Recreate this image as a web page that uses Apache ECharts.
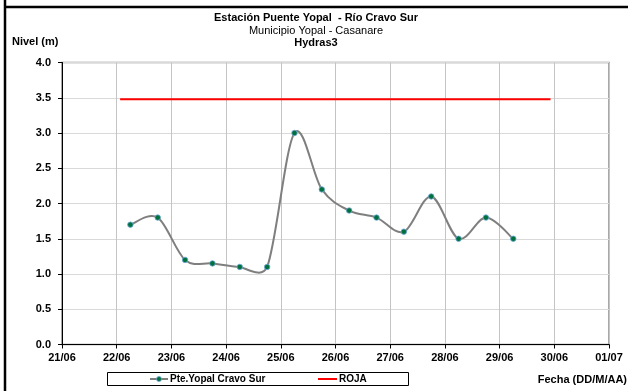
<!DOCTYPE html>
<html><head><meta charset="utf-8">
<script src="https://cdn.jsdelivr.net/npm/echarts@6/dist/echarts.min.js"></script>
<style>html,body{margin:0;padding:0;background:#fff}#c{width:632px;height:391px}</style>
</head><body><div id="c"></div>
<script>
// ---- data ----
const tickLabels = ['21/06','22/06','23/06','24/06','25/06','26/06','27/06','28/06','29/06','30/06','01/07'];
const obsTimes = ['22/06 06:00','22/06 18:00','23/06 06:00','23/06 18:00','24/06 06:00','24/06 18:00',
                  '25/06 06:00','25/06 18:00','26/06 06:00','26/06 18:00','27/06 06:00','27/06 18:00',
                  '28/06 06:00','28/06 18:00','29/06 06:00'];
const obsLevels = [1.7,1.8,1.2,1.15,1.1,1.1,3.0,2.2,1.9,1.8,1.6,2.1,1.5,1.8,1.5];
const rojaTimes = ['22/06 01:30','29/06 22:20'];
const rojaLevels = [3.48,3.48];
const seriesNames = ['Pte.Yopal Cravo Sur','ROJA'];

// day offset from 21/06 00:00
function toDay(s){
  const [d,t] = s.split(' ');
  const [dd,mm] = d.split('/').map(Number);
  const [h,mi] = (t||'00:00').split(':').map(Number);
  const base = mm === 6 ? dd - 21 : 9 + dd;
  return base + (h + mi/60)/24;
}
const obsData = obsTimes.map((t,i)=>[toDay(t),obsLevels[i]]);
const rojaData = rojaTimes.map((t,i)=>[toDay(t),rojaLevels[i]]);

const FONT = '"Liberation Sans", Arial, sans-serif';
const LINE_GRAY = '#7f7f7f', DOT_GREEN = '#00703c', DOT_EDGE = '#6fa8dc', RED = '#ff0000';

function dist(a,b){ return Math.hypot(a[0]-b[0], a[1]-b[1]); }
// Excel-style smoothed curve (bezier with clamped arms), coordinates from the chart's own scales
function renderSmooth(params, api){
  const p = obsData.map(d=>api.coord(d));
  const n = p.length;
  let d = 'M' + p[0][0] + ' ' + p[0][1];
  for (let i=0;i<n-1;i++){
    const p0 = p[Math.max(i-1,0)], p1 = p[i], p2 = p[i+1], p3 = p[Math.min(i+2,n-1)];
    const d02 = dist(p0,p2), d12 = dist(p1,p2), d13 = dist(p1,p3);
    let f1 = 1/6, f2 = 1/6;
    const a = d02/6 >= d12/2, b = d13/6 >= d12/2;
    if (a && b){ f1 = d12/2/d02; f2 = d12/2/d13; }
    else if (a){ f1 = f2 = d12/2/d02; }
    else if (b){ f1 = f2 = d12/2/d13; }
    const c1x = p1[0] + (p2[0]-p0[0])*f1, c1y = p1[1] + (p2[1]-p0[1])*f1;
    const c2x = p2[0] - (p3[0]-p1[0])*f2, c2y = p2[1] - (p3[1]-p1[1])*f2;
    d += ' C' + c1x + ' ' + c1y + ' ' + c2x + ' ' + c2y + ' ' + p2[0] + ' ' + p2[1];
  }
  return {type:'path', shape:{pathData:d}, style:{stroke:LINE_GRAY, lineWidth:2, fill:'none'}};
}

const chart = echarts.init(document.getElementById('c'), null, {renderer:'canvas'});
chart.setOption({
  backgroundColor:'#fff',
  animation:false,
  grid:{left:62,right:23,top:62.5,bottom:46.5,show:true,borderColor:'#8c8c8c',borderWidth:1.5,backgroundColor:'transparent'},
  xAxis:{
    type:'value',min:0,max:tickLabels.length-1,interval:1,
    axisLine:{show:true,lineStyle:{color:'#000',width:1}},
    axisTick:{show:true,inside:false,length:4,lineStyle:{color:'#000'}},
    axisLabel:{margin:8,color:'#000',fontFamily:FONT,fontWeight:'bold',fontSize:11,
      formatter:v=>tickLabels[Math.round(v)]},
    splitLine:{show:true,lineStyle:{color:'#c4c4c4',width:1}}
  },
  yAxis:{
    type:'value',min:0,max:4,interval:0.5,
    axisLine:{show:true,lineStyle:{color:'#000',width:1}},
    axisTick:{show:true,inside:false,length:4,lineStyle:{color:'#000'}},
    axisLabel:{margin:11,color:'#000',fontFamily:FONT,fontWeight:'bold',fontSize:11,
      formatter:v=>v.toFixed(1)},
    splitLine:{show:true,lineStyle:{color:'#d9d9d9',width:1.2}}
  },
  series:[
    {
      name:seriesNames[1],type:'line',data:rojaData,symbol:'none',
      lineStyle:{color:RED,width:2},z:2
    },
    {
      name:seriesNames[0],type:'custom',renderItem:renderSmooth,data:[[0,0]],z:3
    },
    {
      name:seriesNames[0],type:'scatter',data:obsData,symbol:'circle',symbolSize:5.5,
      itemStyle:{color:DOT_GREEN,borderColor:DOT_EDGE,borderWidth:0.8,opacity:1},z:4
    }
  ],
  graphic:[
    {type:'line',shape:{x1:5,y1:0,x2:5,y2:391},style:{stroke:'#000',lineWidth:2.5}},
    {type:'line',shape:{x1:4,y1:7,x2:628,y2:7},style:{stroke:'#000',lineWidth:2.5}},
    // legend box
    {type:'rect',shape:{x:107.5,y:372.5,width:301,height:13},style:{fill:'none',stroke:'#000',lineWidth:1}},
    {type:'line',shape:{x1:150,y1:379,x2:168,y2:379},style:{stroke:LINE_GRAY,lineWidth:2}},
    {type:'circle',shape:{cx:159,cy:379,r:2.5},style:{fill:DOT_GREEN,stroke:DOT_EDGE,lineWidth:0.8}},
    {type:'text',style:{text:seriesNames[0],x:170,y:379.5,align:'left',verticalAlign:'middle',
      font:'bold 10px '+FONT,fill:'#000'}},
    {type:'line',shape:{x1:318,y1:379,x2:337,y2:379},style:{stroke:RED,lineWidth:2}},
    {type:'text',style:{text:seriesNames[1],x:339,y:379.5,align:'left',verticalAlign:'middle',
      font:'bold 10px '+FONT,fill:'#000'}},
    // titles
    {type:'text',style:{text:'Estación Puente Yopal  - Río Cravo Sur',x:316,y:18,align:'center',verticalAlign:'middle',
      font:'bold 11px '+FONT,fill:'#000'}},
    {type:'text',style:{text:'Municipio Yopal - Casanare',x:316,y:31,align:'center',verticalAlign:'middle',
      font:'11px '+FONT,fill:'#000'}},
    {type:'text',style:{text:'Hydras3',x:316,y:43,align:'center',verticalAlign:'middle',
      font:'bold 11px '+FONT,fill:'#000'}},
    {type:'text',style:{text:'Nivel (m)',x:12,y:42,align:'left',verticalAlign:'middle',
      font:'bold 11px '+FONT,fill:'#000'}},
    {type:'text',style:{text:'Fecha (DD/M/AA)',x:627,y:380,align:'right',verticalAlign:'middle',
      font:'bold 11px '+FONT,fill:'#000'}}
  ]
});
</script></body></html>
